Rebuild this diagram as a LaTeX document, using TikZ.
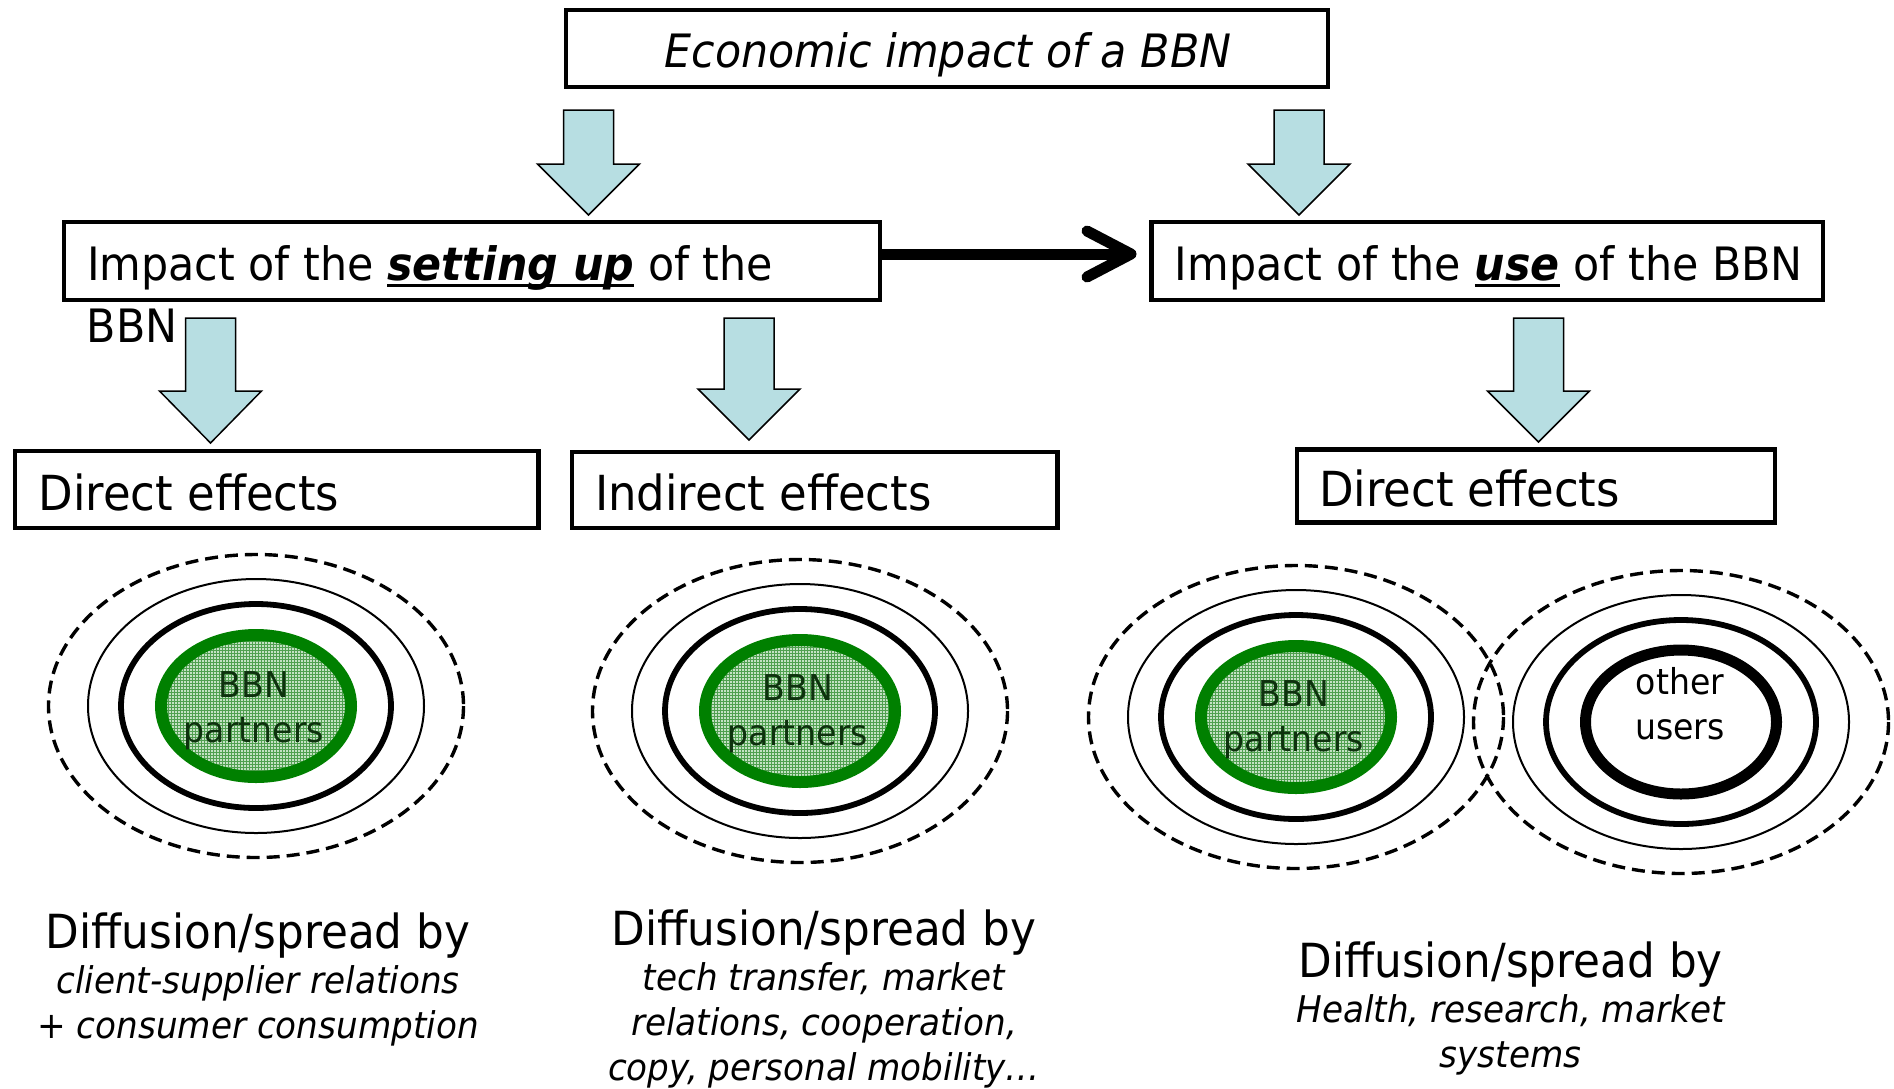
\documentclass[tikz,border=0pt]{standalone}
\usepackage{fontspec}
\setmainfont{DejaVu Sans}[FakeStretch=0.93]
\usetikzlibrary{arrows.meta,patterns}
\definecolor{arrowblue}{RGB}{183,222,226}
\definecolor{bbngreen}{RGB}{0,128,0}
\definecolor{bbnfill}{RGB}{196,226,196}
\definecolor{bbngrid}{RGB}{80,160,80}
\definecolor{bbntext}{RGB}{14,50,14}
\newcommand\ulbi[1]{\setbox0=\hbox{\bfseries\itshape #1}\rlap{\rule[-7pt]{\wd0}{3pt}}\box0\relax}
\newcommand\blockdown[4]{%
  \filldraw[blockarrow] (#1-25,#2) -- (#1+25,#2) -- (#1+25,#3) -- (#1+51,#3)
    -- (#1,#4) -- (#1-51,#3) -- (#1-25,#3) -- cycle;}
\newcommand\ringset[2]{%
  \draw[ringdash] (#1,#2) ellipse [x radius=207.5, y radius=151.5];
  \draw[ringthin] (#1,#2) ellipse [x radius=168, y radius=127];
  \draw[ringthick] (#1,#2) ellipse [x radius=135, y radius=102];}
\newcommand\bbncore[2]{%
  \fill[bbnfill] (#1,#2) ellipse [x radius=95, y radius=71];
  \path[pattern=grid, pattern color=bbngrid] (#1,#2) ellipse [x radius=95, y radius=71];
  \draw[bbngreen, line width=12pt] (#1,#2) ellipse [x radius=95, y radius=71];}
\tikzset{
  box/.style={draw, line width=4.5pt, rectangle, inner sep=0pt, outer sep=0pt},
  boxtext/.style={anchor=base west, inner sep=0pt, font=\fontsize{46}{62}\selectfont},
  smallboxtext/.style={anchor=base west, inner sep=0pt, font=\fontsize{48.3}{58}\selectfont},
  titletext/.style={anchor=base, inner sep=0pt, font=\fontsize{46}{55}\selectfont\itshape},
  blocktext/.style={anchor=base, align=center, inner sep=0pt, font=\fontsize{36.8}{45}\selectfont\itshape},
  coretext/.style={anchor=base, align=center, inner sep=0pt, font=\fontsize{35.6}{45}\selectfont},
  blockarrow/.style={fill=arrowblue, draw=black, line width=1.5pt, line join=miter},
  ringdash/.style={draw=black, line width=3.4pt, dash pattern=on 13pt off 7pt},
  ringthin/.style={draw=black, line width=2pt},
  ringthick/.style={draw=black, line width=5.8pt},
  bigconn/.style={line width=11pt, -{Straight Barb[length=44pt,width=46pt,round]}, shorten >=15pt}
}
\begin{document}
\begin{tikzpicture}[x=1pt,y=-1pt]
\useasboundingbox (0,0) rectangle (1894,1088);

% boxes
\node[box, minimum width=762pt, minimum height=77pt] (top) at (947,48.5) {};
\node[box, minimum width=816pt, minimum height=78pt] (b2l) at (472,261) {};
\node[box, minimum width=671.5pt, minimum height=78pt] (b2r) at (1487.25,261) {};
\node[box, minimum width=523.5pt, minimum height=77pt] (b3l) at (276.75,489.5) {};
\node[box, minimum width=485.5pt, minimum height=76.4pt] (b3m) at (814.75,490) {};
\node[box, minimum width=478pt, minimum height=73pt] (b3r) at (1536,486) {};

% texts
\node[titletext] (ttitle) at (948,67) {Economic impact of a BBN};
\node[boxtext] (t2l) at (87,280) {Impact of the \ulbi{setting up} of the};
\node[boxtext] (t2lb) at (86.5,342) {BBN};
\node[boxtext] (t2r) at (1174.5,280) {Impact of the \ulbi{use} of the BBN};
\node[smallboxtext] (t3l) at (38.5,510) {Direct effects};
\node[smallboxtext] (t3m) at (595,510) {Indirect effects};
\node[smallboxtext] (t3r) at (1319,506) {Direct effects};

% block arrows
\blockdown{588.5}{110}{164}{215}
\blockdown{1299}{110}{164}{215}
\blockdown{210.5}{318}{391}{443}
\blockdown{749}{318}{389}{440}
\blockdown{1538.5}{318}{391}{442}

% connector
\draw[bigconn] ([yshift=7pt]b2l.east) -- ([yshift=7pt]b2r.west);

% rings
\ringset{256}{706}
\bbncore{256}{706}
\ringset{800}{711}
\bbncore{800}{711}
\ringset{1296}{717}
\bbncore{1296}{717}
\ringset{1681}{722}
\draw[black, line width=11pt] (1681,722) ellipse [x radius=95.5, y radius=72];

% (anchor=base is the baseline of the last line)
\node[coretext, text=bbntext] (pL) at (254,742) {BBN\\partners};
\node[coretext, text=bbntext] (pM) at (798,745) {BBN\\partners};
\node[coretext, text=bbntext] (pR) at (1294,751) {BBN\\partners};
\node[coretext] (ou) at (1680,739) {other\\users};

% bottom texts
\node[blocktext] (dL) at (258,1038) {{\upshape\fontsize{47}{45}\selectfont Diffusion/spread by}\\client-supplier relations\\+ consumer consumption};
\node[blocktext] (dM) at (824,1080) {{\upshape\fontsize{47}{45}\selectfont Diffusion/spread by}\\tech transfer, market\\relations, cooperation,\\copy, personal mobility…};
\node[blocktext] (dR) at (1510.5,1067) {{\upshape\fontsize{47}{45}\selectfont Diffusion/spread by}\\Health, research, market\\systems};
\end{tikzpicture}
\end{document}
